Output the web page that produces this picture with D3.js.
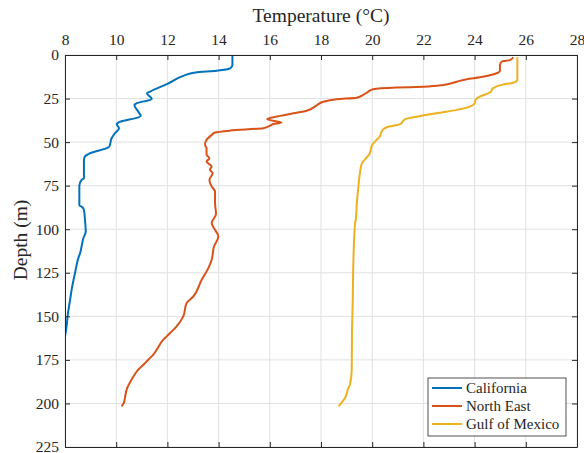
<!DOCTYPE html>
<html>
<head>
<meta charset="utf-8">
<script src="https://cdn.jsdelivr.net/npm/d3@7"></script>
<style>
  body { margin: 0; background: #fff; }
  svg text { font-family: "Liberation Serif", "Times New Roman", serif; fill: #262626; }
</style>
</head>
<body>
<div id="chart"></div>
<script>
// Temperature profiles [temperature degC, depth m]
var california = [
  [14.54,0],[14.54,5.7],[14.45,7.7],[13.92,9],[13.1,10],[12.62,12],[12.04,16.3],
  [11.32,21],[11.2,22],[11.39,25.2],[10.8,27.7],[10.71,28.7],[10.86,32.5],[10.96,35],
  [10.08,38.8],[10.02,39.6],[10.11,42],[9.95,44.9],[9.82,47.8],[9.73,52.6],[9.63,53.5],
  [8.98,56.4],[8.76,58.7],[8.74,60.2],[8.74,70.7],[8.65,71.7],[8.56,75],[8.56,86.4],
  [8.65,87],[8.74,88.9],[8.78,94.6],[8.81,101.3],[8.72,105],[8.59,113.7],[8.52,116.6],
  [8.39,125.2],[8.26,134.7],[8.2,140.5],[8.1,150],[8.07,154.8],[8.0,161.5]
];
var northEast = [
  [25.51,1.3],[25.38,2.9],[25.06,3.8],[24.99,5.7],[24.99,9],[24.86,10.5],[24.21,12.8],
  [23.69,13.9],[23.3,15.3],[22.78,17.2],[22.0,18.2],[20.96,18.7],[20.04,19.7],[19.85,21],
  [19.65,22.9],[19.4,24.5],[18.61,25.4],[18.09,26.8],[17.83,28.9],[17.44,32],[16.79,33.9],
  [16.14,35.7],[15.9,36.9],[16.46,38.8],[16.14,39.6],[16.0,40.7],[15.75,42],[14.45,43.4],
  [13.86,44.5],[13.73,45.9],[13.53,48.7],[13.47,51.6],[13.53,53.5],[13.53,57.3],[13.64,59.2],
  [13.53,61.2],[13.73,64],[13.66,65.9],[13.77,67.8],[13.64,71.7],[13.73,75.5],[13.86,78.4],
  [13.86,85],[13.9,91.2],[13.73,96.5],[13.82,99.4],[13.99,104.2],[13.82,109.9],[13.73,117.5],
  [13.6,122.3],[13.34,129],[13.01,138.6],[12.75,142.4],[12.62,150],[12.36,155.8],[11.97,161.5],
  [11.84,163.4],[11.58,169.2],[11.45,172],[11.25,174.9],[11.13,176.8],[10.86,180.6],[10.6,186.4],
  [10.43,191.1],[10.34,196.8],[10.3,199.7],[10.21,201.7]
];
var gulfOfMexico = [
  [25.67,1.3],[25.67,14.3],[25.5,15.9],[25.09,17],[24.73,19],[24.6,21.5],[24.18,24],
  [24.05,25.5],[23.99,28],[23.82,29.6],[23.3,31.5],[22.52,33.4],[21.74,35.4],[21.28,36.9],
  [21.09,39.7],[20.57,41.5],[20.41,43],[20.28,47.2],[20.11,49.7],[19.98,52.2],[19.91,56.4],
  [19.59,62.5],[19.52,67.8],[19.46,75.5],[19.4,85],[19.36,94.6],[19.33,96.5],[19.26,121.4],
  [19.24,140.5],[19.21,159.6],[19.2,180.6],[19.13,189.2],[19.07,191.1],[18.94,196.8],
  [18.8,199.7],[18.68,201.7]
];
var seriesNames = ["California", "North East", "Gulf of Mexico"];
var seriesData = [california, northEast, gulfOfMexico];
var xTicks = [8,10,12,14,16,18,20,22,24,26,28];
var yTicks = [0,25,50,75,100,125,150,175,200,225];

var width = 584, height = 453;
var margin = {left: 65, top: 55, right: 7, bottom: 6};
var colours = ["#0072BD", "#D95319", "#EDB120"];
var axisColour = "#262626";
var serif = "'Liberation Serif', 'Times New Roman', serif";

var svg = d3.select("#chart").append("svg")
    .attr("width", width)
    .attr("height", height);

var x = d3.scaleLinear().domain([8, 28]).range([margin.left, width - margin.right]);
var y = d3.scaleLinear().domain([0, 225]).range([margin.top, height - margin.bottom]);

//Grid lines
svg.append("g")
    .selectAll("line")
    .data(xTicks)
    .enter().append("line")
    .attr("x1", function(d) { return x(d); })
    .attr("x2", function(d) { return x(d); })
    .attr("y1", y(0)).attr("y2", y(225))
    .attr("stroke", "#e1e1e1").attr("stroke-width", 1);
svg.append("g")
    .selectAll("line")
    .data(yTicks)
    .enter().append("line")
    .attr("y1", function(d) { return y(d); })
    .attr("y2", function(d) { return y(d); })
    .attr("x1", x(8)).attr("x2", x(28))
    .attr("stroke", "#e1e1e1").attr("stroke-width", 1);

//Clip lines to the axes box
svg.append("clipPath").attr("id", "clip")
    .append("rect")
    .attr("x", x(8)).attr("y", y(0))
    .attr("width", x(28) - x(8)).attr("height", y(225) - y(0));

var line = d3.line()
    .curve(d3.curveMonotoneY)
    .x(function(d) { return x(d[0]); })
    .y(function(d) { return y(d[1]); });

svg.append("g").attr("clip-path", "url(#clip)")
    .selectAll("path")
    .data(seriesData)
    .enter().append("path")
    .attr("d", line)
    .attr("fill", "none")
    .attr("stroke", function(d, i) { return colours[i]; })
    .attr("stroke-width", 2)
    .attr("stroke-linejoin", "round");

//Axes (ticks pointing inward, box on)
function styleAxis(g) {
    g.attr("font-family", serif);
    g.select(".domain").attr("stroke", axisColour);
    g.selectAll(".tick line").attr("stroke", axisColour);
    g.selectAll(".tick text")
        .style("font-family", serif)
        .style("font-size", "15.5px")
        .attr("fill", axisColour);
}

svg.append("g")
    .attr("transform", "translate(0," + y(0) + ")")
    .call(d3.axisTop(x).tickValues(xTicks).tickSizeInner(-5).tickSizeOuter(0).tickPadding(10))
    .call(styleAxis);
svg.append("g")
    .attr("transform", "translate(0," + y(225) + ")")
    .call(d3.axisBottom(x).tickValues(xTicks).tickSizeInner(-5).tickSizeOuter(0).tickFormat(""))
    .call(styleAxis);
svg.append("g")
    .attr("transform", "translate(" + x(8) + ",0)")
    .call(d3.axisLeft(y).tickValues(yTicks).tickSizeInner(-5).tickSizeOuter(0).tickPadding(6))
    .call(styleAxis);
svg.append("g")
    .attr("transform", "translate(" + x(28) + ",0)")
    .call(d3.axisRight(y).tickValues(yTicks).tickSizeInner(-5).tickSizeOuter(0).tickFormat(""))
    .call(styleAxis);

//Axis labels
svg.append("text")
    .attr("x", (x(8) + x(28)) / 2)
    .attr("y", 22)
    .attr("text-anchor", "middle")
    .style("font-size", "19.5px")
    .text("Temperature (\u00B0C)");
svg.append("text")
    .attr("transform", "translate(27,240) rotate(-90)")
    .attr("text-anchor", "middle")
    .style("font-size", "19.5px")
    .text("Depth (m)");

//Legend
var legend = svg.append("g").attr("transform", "translate(428,378)");
legend.append("rect")
    .attr("width", 138).attr("height", 58)
    .attr("fill", "#fff").attr("stroke", axisColour).attr("stroke-width", 0.8);
var rows = legend.selectAll("g")
    .data(seriesNames)
    .enter().append("g")
    .attr("transform", function(d, i) { return "translate(0," + (10 + i * 18) + ")"; });
rows.append("line")
    .attr("x1", 4).attr("x2", 34)
    .attr("stroke", function(d, i) { return colours[i]; })
    .attr("stroke-width", 2);
rows.append("text")
    .attr("x", 38).attr("y", 5)
    .style("font-size", "15px")
    .text(function(d) { return d; });
</script>
</body>
</html>
